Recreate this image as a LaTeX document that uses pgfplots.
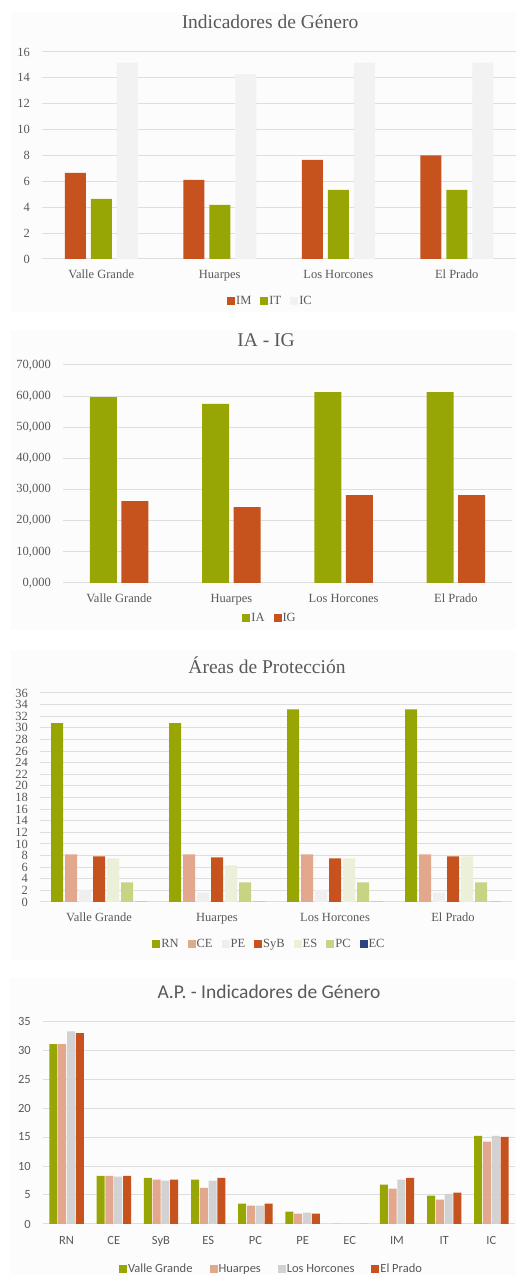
\documentclass[border=0pt]{standalone}
\usepackage{pgfplots}
\pgfplotsset{compat=1.18}
\usepackage{fontspec}
\setmainfont{Liberation Serif}
\newfontfamily\calfont{Carlito}
\definecolor{cred}{RGB}{198,83,30}
\definecolor{cgreen}{RGB}{151,166,5}
\definecolor{clgray}{RGB}{242,242,242}
\definecolor{csalmon}{RGB}{227,167,141}
\definecolor{cpe}{RGB}{239,239,239}
\definecolor{ces}{RGB}{236,240,217}
\definecolor{cpc}{RGB}{200,211,131}
\definecolor{cec}{RGB}{46,68,128}
\definecolor{cgray}{RGB}{210,210,210}
\definecolor{gridc}{RGB}{222,222,222}
\definecolor{txt}{RGB}{89,89,89}
\definecolor{bgc}{RGB}{252,252,252}
\newcommand{\fsz}[1]{\fontsize{#1}{#1}\selectfont}
\pgfplotsset{
  panel/.style={
    scale only axis, anchor=south west,
    axis line style={draw=none},
    major tick length=0pt,
    ymajorgrids, grid style={line width=1pt, gridc},
    ymin=0, scaled y ticks=false,
    tick label style={text=txt},
    yticklabel style={anchor=east, inner sep=0pt, xshift=-12pt},
    xticklabel style={anchor=base, inner sep=0pt, yshift=-20pt},
    /pgf/number format/assume math mode=true,
    legend columns=-1,
    legend style={draw=none, fill=none, text=txt, anchor=center, inner sep=0pt,
      nodes={inner xsep=1pt, inner ysep=0pt},
      /tikz/every even column/.append style={column sep=8pt}},
  },
  bb/.style={ybar, draw=none, fill=#1, legend image code/.code={\fill[#1] (0pt,-4pt) rectangle (8pt,4pt);}},
}
\begin{document}
\begin{tikzpicture}[x=1pt,y=1pt]
\path[use as bounding box] (0,0) rectangle (521,1275);
\fill[bgc] (11,963) rectangle (516,1263);
\fill[bgc] (11,645) rectangle (516,945);
\fill[bgc] (11,315) rectangle (516,625);
\fill[bgc] (10,0) rectangle (516,297);

% Panel 1
\begin{axis}[panel, at={(42pt,1016pt)}, width=474pt, height=207pt,
  xmin=-0.5, xmax=3.5, ymax=16, ytick={0,2,...,16},
  xtick={0,1,2,3}, xticklabels={Valle Grande,Huarpes,Los Horcones,El Prado},
  tick label style={font=\fsz{12.5}},
  legend style={at={(0.481,-0.203)}, font=\fsz{12.5}},
  bar width=21pt]
\addplot[bb=cred, bar shift=-26pt] coordinates {(0,6.66) (1,6.12) (2,7.66) (3,8.0)};
\addplot[bb=cgreen, bar shift=0pt] coordinates {(0,4.65) (1,4.19) (2,5.35) (3,5.35)};
\addplot[bb=clgray, bar shift=26pt] coordinates {(0,15.17) (1,14.29) (2,15.17) (3,15.17)};
\legend{IM,IT,IC}
\end{axis}
\node[text=txt, font=\fsz{19.5}] at (270,1253) {Indicadores de Género};

% Panel 2
\begin{axis}[panel, at={(63pt,692pt)}, width=449pt, height=218pt,
  xmin=-0.5, xmax=3.5, ymax=70000, ytick={0,10000,...,70000},
  yticklabels={{0,000},{10,000},{20,000},{30,000},{40,000},{50,000},{60,000},{70,000}},
  xtick={0,1,2,3}, xticklabels={Valle Grande,Huarpes,Los Horcones,El Prado},
  tick label style={font=\fsz{12.5}},
  legend style={at={(0.46,-0.16)}, font=\fsz{12.5}},
  bar width=27pt]
\addplot[bb=cgreen, bar shift=-15.75pt] coordinates {(0,59700) (1,57550) (2,61300) (3,61300)};
\addplot[bb=cred, bar shift=15.75pt] coordinates {(0,26260) (1,24330) (2,28190) (3,28190)};
\legend{IA,IG}
\end{axis}
\node[text=txt, font=\fsz{19.5}] at (266,935) {IA - IG};

% Panel 3
\begin{axis}[panel, at={(40pt,373pt)}, width=472pt, height=209pt,
  xmin=-0.5, xmax=3.5, ymax=36, ytick={0,2,...,36},
  xtick={0,1,2,3}, xticklabels={Valle Grande,Huarpes,Los Horcones,El Prado},
  tick label style={font=\fsz{12.5}},
  legend style={at={(0.485,-0.201)}, font=\fsz{12.5}},
  bar width=12pt]
\addplot[bb=cgreen, bar shift=-42pt] coordinates {(0,30.8) (1,30.8) (2,33.2) (3,33.2)};
\addplot[bb=csalmon, bar shift=-28pt] coordinates {(0,8.2) (1,8.2) (2,8.2) (3,8.2)};
\addplot[bb=cpe, bar shift=-14pt] coordinates {(0,2.1) (1,1.6) (2,2.1) (3,1.6)};
\addplot[bb=cred, bar shift=0pt] coordinates {(0,7.86) (1,7.69) (2,7.52) (3,7.86)};
\addplot[bb=ces, bar shift=14pt] coordinates {(0,7.52) (1,6.3) (2,7.52) (3,7.86)};
\addplot[bb=cpc, bar shift=28pt] coordinates {(0,3.39) (1,3.39) (2,3.39) (3,3.39)};
\addplot[bb=cec, bar shift=42pt] coordinates {(0,0) (1,0) (2,0) (3,0)};
\legend{RN,CE,PE,SyB,ES,PC,EC}
\end{axis}
\node[text=txt, font=\fsz{19.5}] at (267,610) {Áreas de Protección};

% Panel 4
\begin{axis}[panel, at={(43pt,51pt)}, width=472pt, height=203pt,
  xmin=-0.5, xmax=9.5, ymax=35, ytick={0,5,...,35},
  xtick={0,...,9}, xticklabels={RN,CE,SyB,ES,PC,PE,EC,IM,IT,IC},
  xticklabel style={yshift=-1pt},
  tick label style={font=\calfont\fsz{12.5}},
  legend style={at={(0.483,-0.222)}, font=\calfont\fsz{12.5},
    /tikz/every even column/.append style={column sep=16pt}},
  bar width=8pt]
\addplot[bb=cgreen, bar shift=-13.2pt] coordinates {(0,31.0) (1,8.3) (2,7.97) (3,7.63) (4,3.5) (5,2.12) (6,0) (7,6.77) (8,4.88) (9,15.2)};
\addplot[bb=csalmon, bar shift=-4.4pt] coordinates {(0,31.0) (1,8.3) (2,7.63) (3,6.25) (4,3.16) (5,1.78) (6,0) (7,6.08) (8,4.19) (9,14.2)};
\addplot[bb=cgray, bar shift=4.4pt] coordinates {(0,33.2) (1,8.15) (2,7.46) (3,7.46) (4,3.16) (5,1.95) (6,0) (7,7.63) (8,5.2) (9,15.2)};
\addplot[bb=cred, bar shift=13.2pt] coordinates {(0,32.9) (1,8.3) (2,7.63) (3,7.97) (4,3.5) (5,1.78) (6,0) (7,7.97) (8,5.39) (9,15.03)};
\legend{Valle Grande,Huarpes,Los Horcones,El Prado}
\end{axis}
\node[text=txt, font=\calfont\fsz{19.5}] at (269,283) {A.P. - Indicadores de Género};
\end{tikzpicture}
\end{document}
